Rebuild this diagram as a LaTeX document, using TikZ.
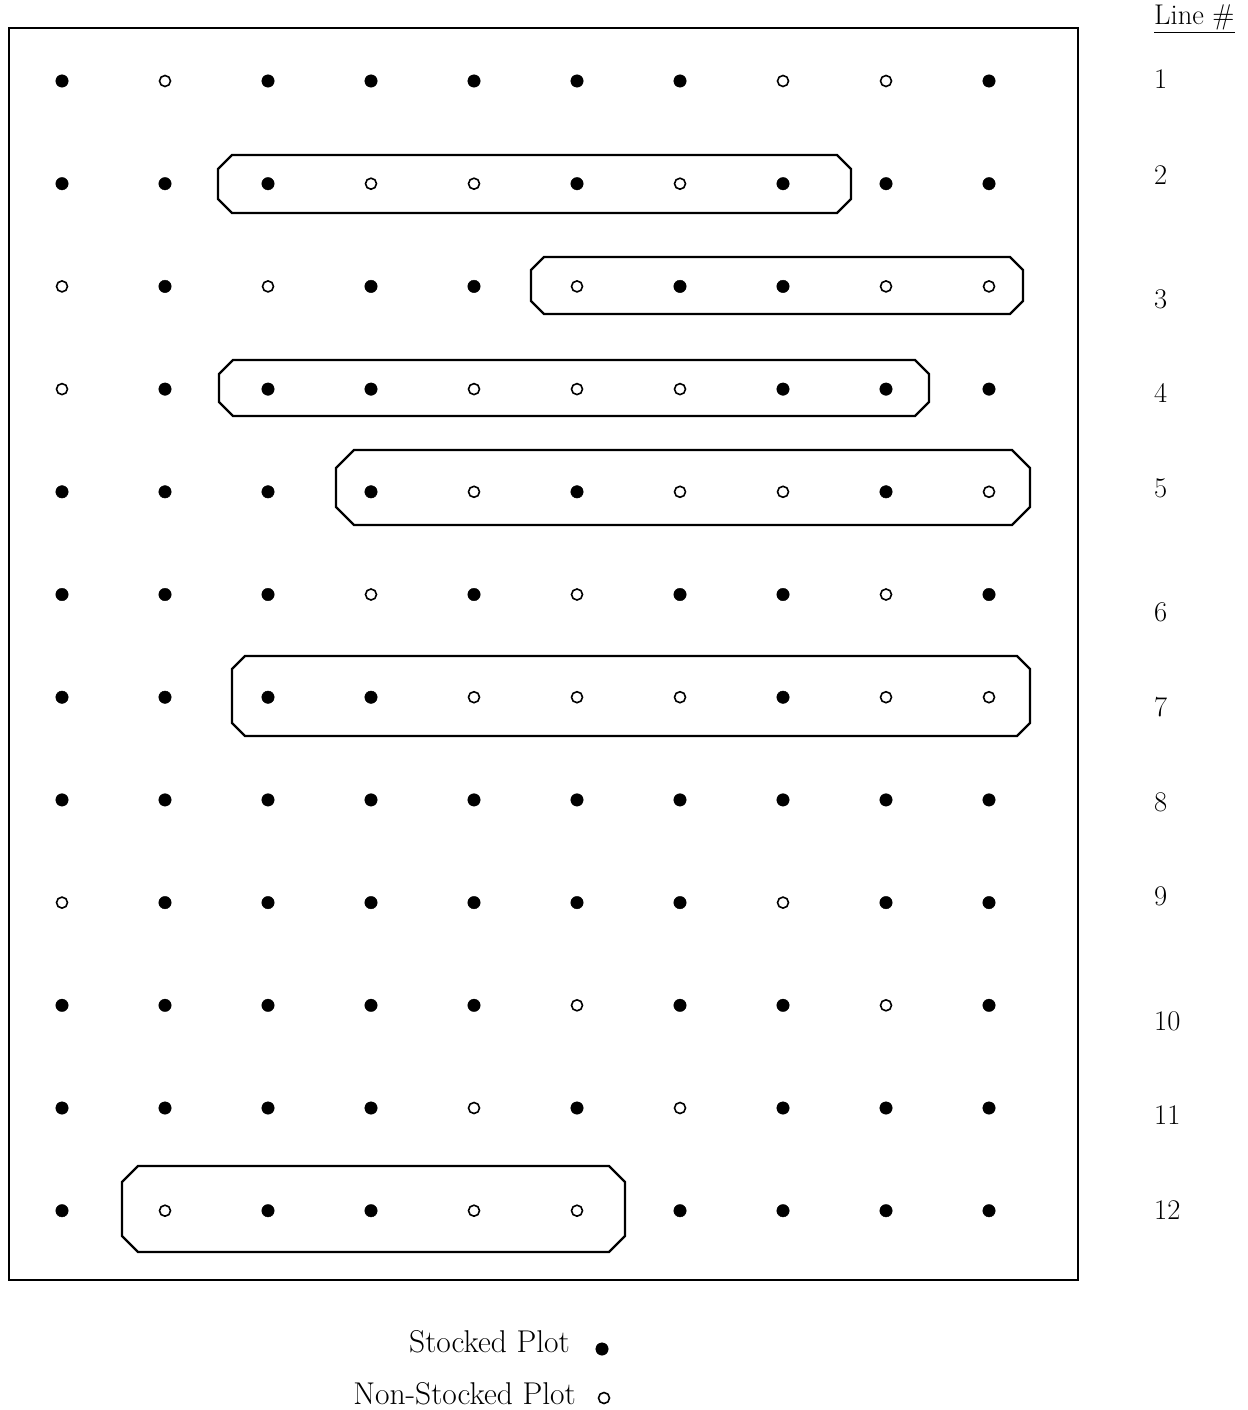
\documentclass[tikz,border=0pt]{standalone}
\usepackage{fontspec}
\begin{document}
\begin{tikzpicture}[x=1pt,y=-1pt,
  stocked/.style={circle,fill=black,draw=black,inner sep=0pt,minimum size=12.5pt},
  nonstocked/.style={circle,draw=black,fill=white,line width=1.6pt,inner sep=0pt,minimum size=11pt},
  frame/.style={draw=black,line width=2.8pt},
  group/.style={draw=black,line width=2.2pt,line join=miter},
  lbl/.style={font=\fontsize{28.5}{34}\selectfont,anchor=base west,inner sep=0pt},
  leg/.style={font=\fontsize{31.5}{38}\selectfont,anchor=base east,inner sep=0pt}]
\useasboundingbox (0,0) rectangle (1247,1410);
\fill[white] (0,0) rectangle (1247,1410);
% outer frame
\draw[frame] (9,28) rectangle (1078,1280);
% plots
\foreach \row [count=\r] in {
  {1,0,1,1,1,1,1,0,0,1},
  {1,1,1,0,0,1,0,1,1,1},
  {0,1,0,1,1,0,1,1,0,0},
  {0,1,1,1,0,0,0,1,1,1},
  {1,1,1,1,0,1,0,0,1,0},
  {1,1,1,0,1,0,1,1,0,1},
  {1,1,1,1,0,0,0,1,0,0},
  {1,1,1,1,1,1,1,1,1,1},
  {0,1,1,1,1,1,1,0,1,1},
  {1,1,1,1,1,0,1,1,0,1},
  {1,1,1,1,0,1,0,1,1,1},
  {1,0,1,1,0,0,1,1,1,1}} {
  \foreach \v [count=\c] in \row {
    \ifnum\v=1
      \node[stocked] (p-\r-\c) at ({62+(\c-1)*103},{81+(\r-1)*102.7}) {};
    \else
      \node[nonstocked] (p-\r-\c) at ({62+(\c-1)*103},{81+(\r-1)*102.7}) {};
    \fi
  }
}
% grouping boxes (chamfered)
\newcommand\octbox[5]{%
  \draw[group] ({#1+#5},#2) -- ({#3-#5},#2) -- (#3,{#2+#5}) -- (#3,{#4-#5})
    -- ({#3-#5},#4) -- ({#1+#5},#4) -- (#1,{#4-#5}) -- (#1,{#2+#5}) -- cycle;}
\octbox{218}{155}{851}{213}{14}
\octbox{531}{257}{1023}{314}{13}
\octbox{219}{360}{929}{416}{14}
\octbox{336}{450}{1030}{525}{18}
\octbox{232}{656}{1030}{736}{13}
\octbox{122}{1166}{625}{1252}{16}
% line labels
\node[lbl] (hdr) at (1154,25) {\underline{Line \#}};
\foreach \n/\y in {1/79,2/175,3/299,4/393,5/488,6/612,7/707,8/802,9/896,10/1021,11/1115,12/1210}{
  \node[lbl] (l\n) at (1154,{\y+9.5}) {\n};
}
% legend
\node[leg] (legS) at (570,1352) {Stocked Plot};
\node[stocked] (legSd) at (602,1349) {};
\node[leg] (legN) at (576,1404) {Non-Stocked Plot};
\node[nonstocked] (legNd) at (604,1398) {};
\end{tikzpicture}
\end{document}
